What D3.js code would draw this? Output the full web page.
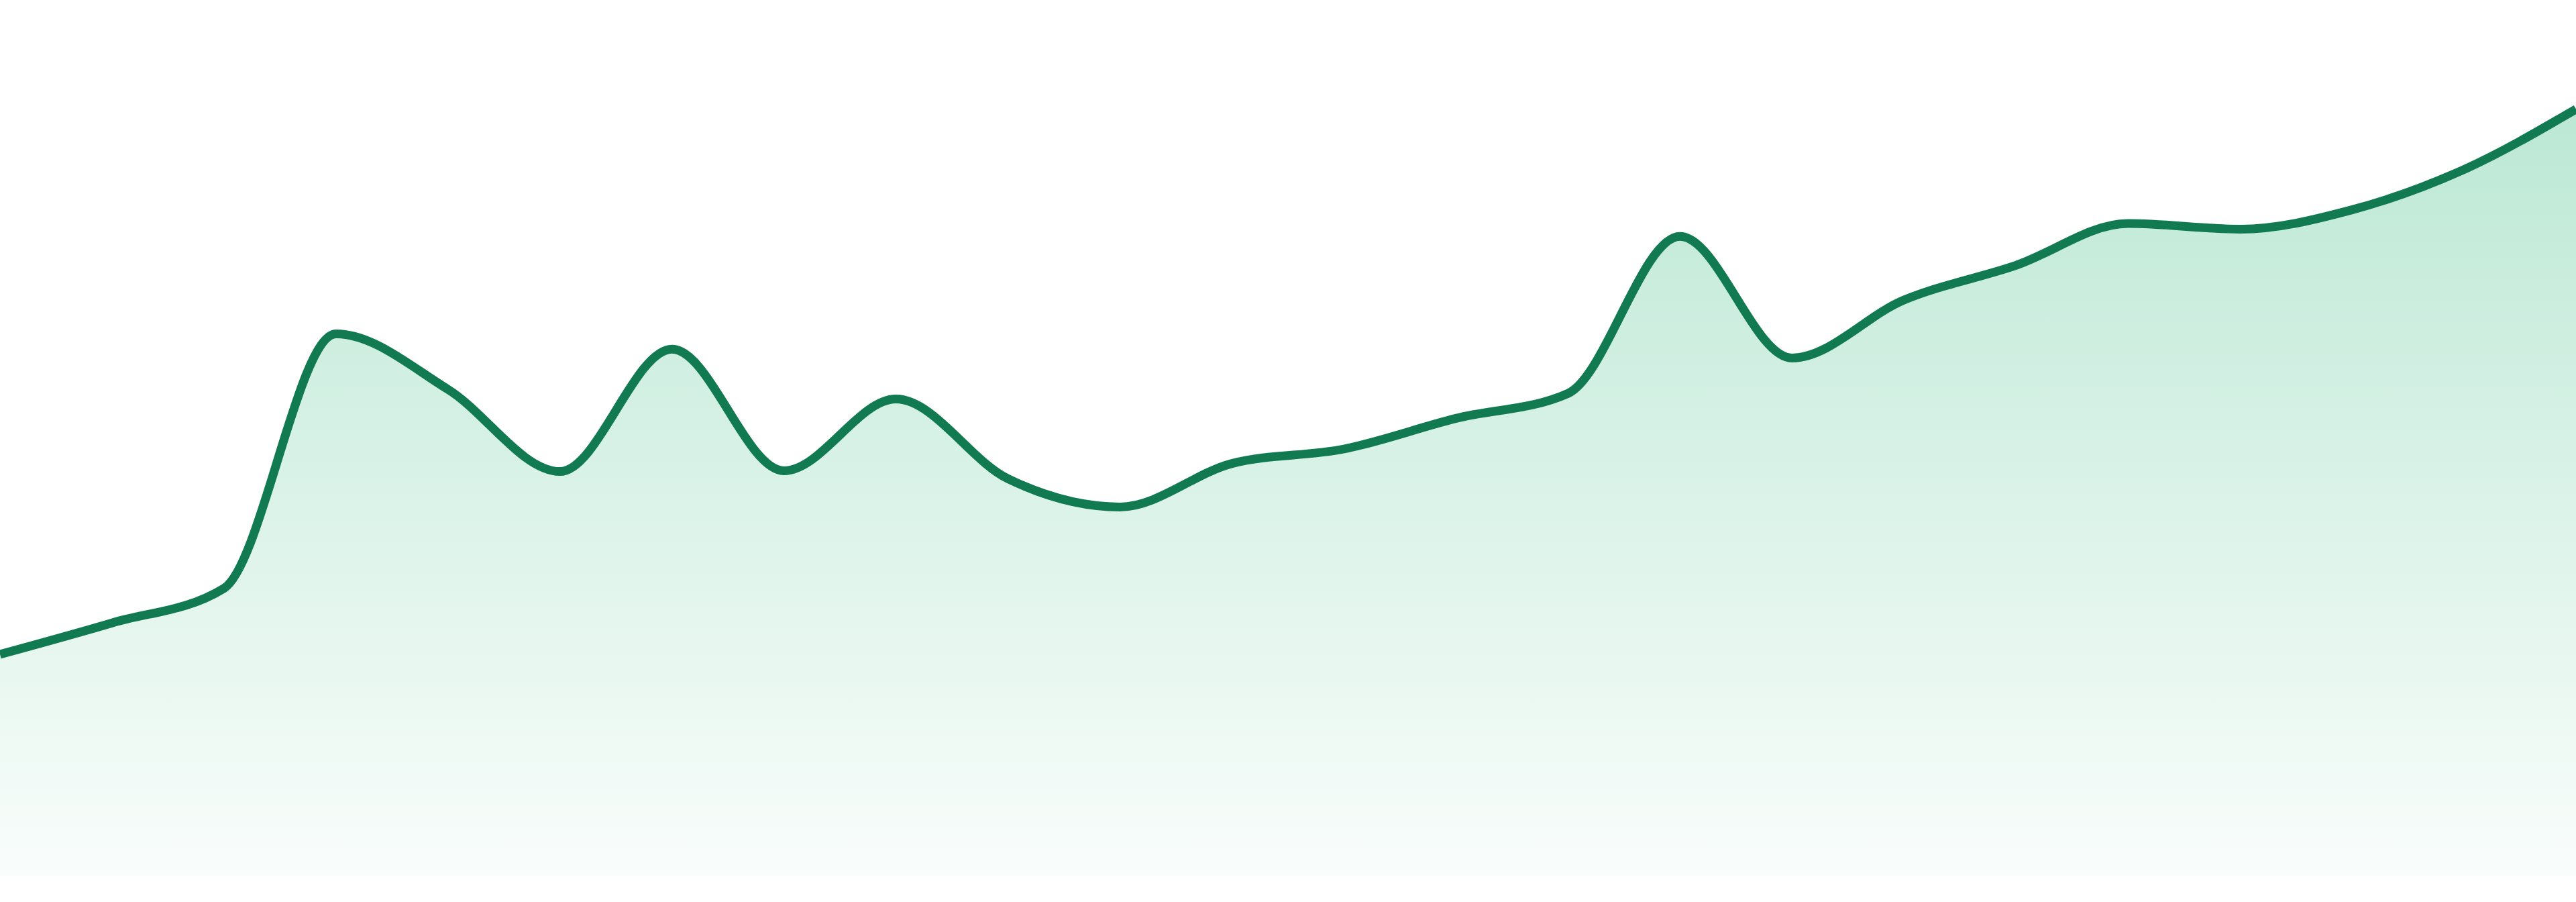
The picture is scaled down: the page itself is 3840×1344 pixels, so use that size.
<!DOCTYPE html>
<html>
<head>
<meta charset="utf-8">
<title>Area chart</title>
<script src="https://cdn.jsdelivr.net/npm/d3@7"></script>
<style>
    html, body { margin: 0; padding: 0; background: #ffffff; overflow: hidden; }
    svg { display: block; }
</style>
</head>
<body>
<div id="chart-container"></div>
<script>
// one value per point, left to right
const points = ["01", "02", "03", "04", "05", "06", "07", "08", "09", "10", "11", "12",
                "13", "14", "15", "16", "17", "18", "19", "20", "21", "22", "23", "24"]
const values = [27.5, 31.4, 35.7, 67.3, 60.4, 50.2, 65.4, 50.3, 59.2, 49.3, 45.8, 51.2,
                53.0, 56.8, 59.9, 79.4, 64.3, 71.5, 75.8, 81.0, 80.3, 82.7, 87.7, 95.2]
const valueDomain = [0, 100]

const lineColor = "#117a50"
const fillTop = "#bce8d5"
const fillBottom = "#f9fdfb"

function newChart(containerId) {
    const width = 3840, height = 1344
    const baseline = 1305, top = 105

    const svg = d3.select("#" + containerId).append("svg")
        .attr("width", width)
        .attr("height", height)

    const x = d3.scalePoint().domain(points).range([0, width])
    const y = d3.scaleLinear().domain(valueDomain).range([baseline, top])

    const dados = points.map((p, i) => ({name: p, value: values[i]}))

    //gradient under the line
    const grad = svg.append("defs").append("linearGradient")
        .attr("id", "area-fill")
        .attr("gradientUnits", "userSpaceOnUse")
        .attr("x1", 0).attr("x2", 0)
        .attr("y1", y(d3.max(values))).attr("y2", baseline)
    grad.append("stop").attr("offset", "0%").attr("stop-color", fillTop)
    grad.append("stop").attr("offset", "100%").attr("stop-color", fillBottom)

    const area = d3.area()
        .x(d => x(d.name))
        .y0(y(valueDomain[0]))
        .y1(d => y(d.value))
        .curve(d3.curveMonotoneX)

    const line = d3.line()
        .x(d => x(d.name))
        .y(d => y(d.value))
        .curve(d3.curveMonotoneX)

    svg.append("path")
        .datum(dados)
        .attr("d", area)
        .attr("fill", "url(#area-fill)")

    svg.append("path")
        .datum(dados)
        .attr("d", line)
        .attr("fill", "none")
        .attr("stroke", lineColor)
        .attr("stroke-width", 13)
        .attr("stroke-linejoin", "round")
}

newChart("chart-container")
</script>
</body>
</html>
